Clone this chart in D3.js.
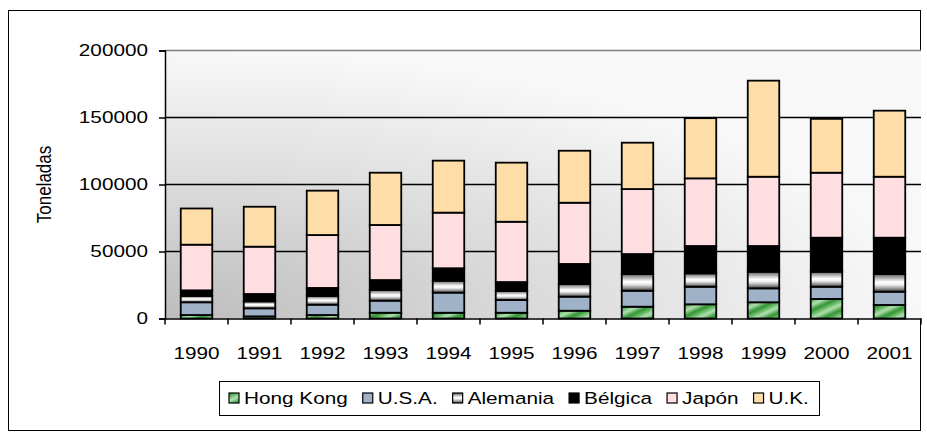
<!DOCTYPE html>
<html><head><meta charset="utf-8">
<script src="https://cdnjs.cloudflare.com/ajax/libs/d3/7.8.5/d3.min.js"></script>
<style>
html,body{margin:0;padding:0;background:#fff;}
svg text{font-family:"Liberation Sans",Arial,sans-serif;fill:#000;}
</style></head>
<body>
<svg id="c" width="927" height="441"></svg>
<script>
const years = ["1990","1991","1992","1993","1994","1995","1996","1997","1998","1999","2000","2001"];
const seriesNames = ["Hong Kong","U.S.A.","Alemania","Bélgica","Japón","U.K."];
const hongKong = [2600,1600,2600,4300,4300,4300,5800,8800,10600,12100,14600,10100];
const usa      = [9500,6000,7700,9000,15000,9500,10500,11900,13100,10400,9100,9900];
const alemania = [4700,5200,6500,8000,8900,6700,9400,12500,10000,12400,11200,13200];
const belgica  = [4200,5500,6000,7400,9300,6700,15000,14900,20400,19200,25400,27100];
const japon    = [34100,35300,39500,41100,41500,45000,45700,48500,50500,51700,48500,45500];
const uk       = [27000,29800,33100,39000,38800,44100,38800,34600,44900,71700,40200,49300];
const yTicks = [0,50000,100000,150000,200000];
const yTitle = "Toneladas";

const FS = 17, SX = 1.22;
const seriesVals = [hongKong,usa,alemania,belgica,japon,uk];
const rows = years.map((y,i)=>{const r={year:y}; seriesNames.forEach((s,j)=>r[s]=seriesVals[j][i]); return r;});
const stacked = d3.stack().keys(seriesNames)(rows);

const svg = d3.select("#c");
const defs = svg.append("defs");

const bg = defs.append("radialGradient").attr("id","bgGrad")
  .attr("cx","0").attr("cy","1").attr("r","1").attr("fx","0").attr("fy","1");
bg.append("stop").attr("offset","0").attr("stop-color","#bdbdbd");
bg.append("stop").attr("offset","0.55").attr("stop-color","#dedede");
bg.append("stop").attr("offset","1").attr("stop-color","#f8f8f8");

const ag = defs.append("linearGradient").attr("id","alemGrad").attr("x1",0).attr("y1",0).attr("x2",0).attr("y2",1);
[["0","#5a5a5a"],["0.2","#a8a8a8"],["0.45","#ffffff"],["0.6","#f0f0f0"],["0.8","#a0a0a0"],["1","#3c3c3c"]]
  .forEach(s=>ag.append("stop").attr("offset",s[0]).attr("stop-color",s[1]));

const hk = defs.append("pattern").attr("id","hkPat").attr("patternUnits","userSpaceOnUse")
  .attr("width",12).attr("height",12).attr("patternTransform","rotate(-25)");
const hkg = defs.append("linearGradient").attr("id","hkGrad").attr("x1",0).attr("y1",0).attr("x2",0).attr("y2",1);
[["0","#2f8f2f"],["0.35","#6fbf6f"],["0.6","#b5e0b5"],["1","#3a9a3a"]]
  .forEach(s=>hkg.append("stop").attr("offset",s[0]).attr("stop-color",s[1]));
hk.append("rect").attr("width",12).attr("height",12).attr("fill","url(#hkGrad)");

const fills = {"Hong Kong":"url(#hkPat)","U.S.A.":"#a0b2c8","Alemania":"url(#alemGrad)","Bélgica":"#000000","Japón":"#ffdee2","U.K.":"#fedda8"};

svg.append("rect").attr("x",8.5).attr("y",10.5).attr("width",912).attr("height",420)
  .attr("fill","#fff").attr("stroke","#000").attr("stroke-width",1);

const L=165, R=921, T=50.5, B=318.5;
const x = d3.scaleBand().domain(years).range([L,R]).paddingInner(0.5).paddingOuter(0.25);
const y = d3.scaleLinear().domain([0,200000]).range([B,T]);

svg.append("rect").attr("x",L).attr("y",T).attr("width",R-L).attr("height",B-T).attr("fill","url(#bgGrad)");
svg.append("line").attr("x1",L).attr("x2",R).attr("y1",T).attr("y2",T).attr("stroke","#808080").attr("stroke-width",1.5);

svg.append("g").selectAll("line").data(yTicks.filter(v=>v>0 && v<200000)).join("line")
  .attr("x1",L).attr("x2",R).attr("y1",d=>y(d)).attr("y2",d=>y(d))
  .attr("stroke","#000").attr("stroke-width",1.5);

svg.append("g").selectAll("g").data(stacked).join("g")
  .attr("fill",d=>fills[d.key])
  .selectAll("rect").data(d=>d).join("rect")
  .attr("x",d=>x(d.data.year)).attr("width",x.bandwidth())
  .attr("y",d=>y(d[1])).attr("height",d=>y(d[0])-y(d[1]))
  .attr("stroke","#000").attr("stroke-width",1.8);

// y axis
const ya = svg.append("g").attr("transform",`translate(${L},0)`)
  .call(d3.axisLeft(y).tickValues(yTicks).tickFormat(d3.format("d")).tickSize(6).tickPadding(11));
ya.select(".domain").attr("stroke","#000").attr("stroke-width",1.5);
ya.selectAll(".tick line").attr("stroke","#000").attr("stroke-width",1.5);
ya.selectAll("text").attr("font-size",FS).attr("fill","#000").style("font-family","'Liberation Sans',Arial,sans-serif")
  .attr("x",-17/SX).attr("transform",`scale(${SX},1)`);

// x axis
const boundaries = d3.range(years.length+1).map(i=>L + i*x.step());
const xa = svg.append("g").attr("transform",`translate(0,${B})`)
  .call(d3.axisBottom(x).tickSize(0).tickPadding(28));
xa.select(".domain").attr("stroke","#000").attr("stroke-width",1.5);
xa.selectAll(".tick text").attr("font-size",FS).attr("fill","#000").style("font-family","'Liberation Sans',Arial,sans-serif")
  .attr("transform",`scale(${SX},1)`);
svg.append("g").selectAll("line").data(boundaries).join("line")
  .attr("x1",d=>d).attr("x2",d=>d).attr("y1",B).attr("y2",B+6)
  .attr("stroke","#000").attr("stroke-width",1.5);

// y title
svg.append("text").attr("transform",`translate(51,${(T+B)/2}) rotate(-90) scale(1,${SX})`)
  .attr("text-anchor","middle").attr("font-size",FS).text(yTitle);

// legend
const lg = svg.append("g");
lg.append("rect").attr("x",219.5).attr("y",381.5).attr("width",600).attr("height",34)
  .attr("fill","#fff").attr("stroke","#000").attr("stroke-width",1);
let cx = 229;
seriesNames.forEach((s,i)=>{
  const g = lg.append("g").attr("transform",`translate(${cx},393)`);
  g.append("rect").attr("width",10).attr("height",10).attr("fill",fills[s]).attr("stroke","#000").attr("stroke-width",1.2);
  const t = g.append("text").attr("transform",`translate(15,11) scale(${SX},1)`).attr("font-size",FS).text(s);
  const w = t.node().getComputedTextLength()*SX;
  cx += 15 + w + 15;
});
</script>
</body></html>
